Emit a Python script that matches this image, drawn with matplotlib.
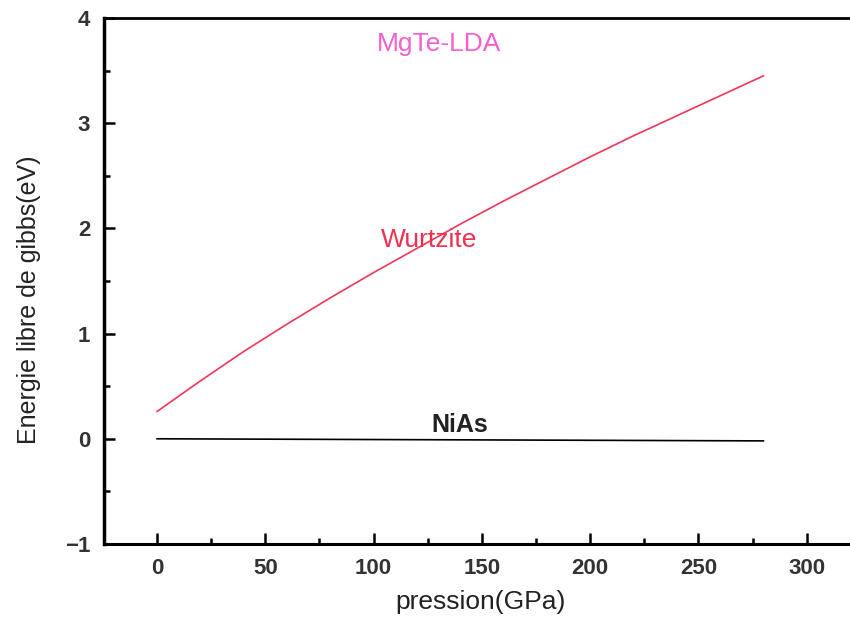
import matplotlib
matplotlib.use("Agg")
import matplotlib.pyplot as plt
from matplotlib.ticker import MultipleLocator

# pression (GPa) et energie libre de Gibbs relative (eV)
pression = [0, 20, 40, 60, 80, 100, 120, 140, 160, 180, 200, 220, 240, 260, 280]
g_wurtzite = [0.26, 0.55, 0.83, 1.09, 1.34, 1.58, 1.81, 2.04, 2.26, 2.47,
              2.68, 2.88, 3.07, 3.26, 3.45]
pression_nias = [0, 280]
g_nias = [0.0, -0.02]

plt.rcParams["font.family"] = ["Liberation Sans", "DejaVu Sans"]

fig = plt.figure(figsize=(8.5, 6.2), dpi=100)
ax = fig.add_axes([0.1224, 0.1226, 0.8776, 0.8484])

ax.plot(pression, g_wurtzite, color="#f0365a", lw=1.2)
ax.plot(pression_nias, g_nias, color="black", lw=1.2)

ax.text(130, 3.75, "MgTe-LDA", color="#f560d0", fontsize=19, ha="center", va="center")
ax.text(125.5, 1.89, "Wurtzite", color="#f0304f", fontsize=19, ha="center", va="center")
ax.text(140, 0.13, "NiAs", color="#222222", fontsize=18, fontweight="bold",
        ha="center", va="center")

ax.set_xlim(-24.5, 320)
ax.set_ylim(-1, 4)
ax.xaxis.set_major_locator(MultipleLocator(50))
ax.xaxis.set_minor_locator(MultipleLocator(25))
ax.yaxis.set_major_locator(MultipleLocator(1))
ax.yaxis.set_minor_locator(MultipleLocator(0.5))
ax.set_xticks([0, 50, 100, 150, 200, 250, 300])

ax.tick_params(which="both", direction="in", top=False, right=False, width=1.8)
ax.tick_params(which="major", length=8, labelsize=16, pad=10)
ax.tick_params(which="minor", length=4)
for lab in ax.get_xticklabels() + ax.get_yticklabels():
    lab.set_fontweight("bold")
    lab.set_color("#333333")

ax.spines["right"].set_visible(False)
ax.spines["left"].set_linewidth(2.5)
ax.spines["bottom"].set_linewidth(2.2)
ax.spines["top"].set_linewidth(2.0)

ax.set_xlabel("pression(GPa)", fontsize=19, color="#222222")
ax.set_ylabel("Energie libre de gibbs(eV)", fontsize=18, color="#222222")
ax.xaxis.set_label_coords(0.505, -0.088)
ax.yaxis.set_label_coords(-0.084, 0.465)

fig.savefig("out.png", dpi=100)
